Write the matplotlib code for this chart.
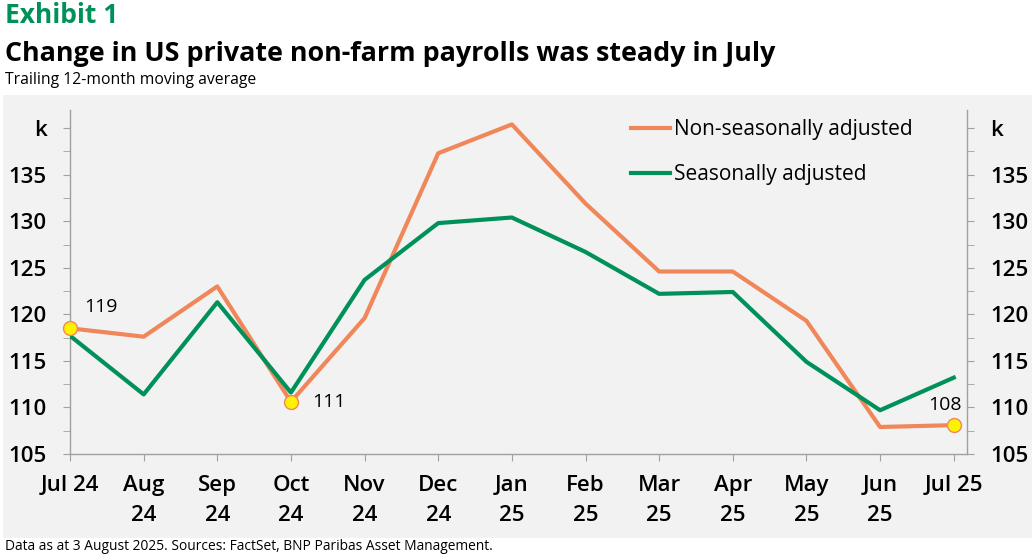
import numpy as np
import matplotlib
matplotlib.use("Agg")
import matplotlib.pyplot as plt
from matplotlib.patches import Rectangle

# ---------------------------------------------------------------- data
months = ["Jul 24", "Aug\n24", "Sep\n24", "Oct\n24", "Nov\n24", "Dec\n24", "Jan\n25",
          "Feb\n25", "Mar\n25", "Apr\n25", "May\n25", "Jun\n25", "Jul 25"]
nsa = [118.5, 117.6, 123.0, 110.6, 119.6, 137.3, 140.4, 131.9, 124.6, 124.6, 119.3, 107.9, 108.1]
sa = [117.7, 111.4, 121.3, 111.6, 123.7, 129.8, 130.4, 126.7, 122.2, 122.4, 114.9, 109.7, 113.2]
highlight_idx = [0, 3, 12]
highlight_txt = ["119", "111", "108"]
yticks = [105, 110, 115, 120, 125, 130, 135, 140]
ylabels = ["105", "110", "115", "120", "125", "130", "135", "k"]

# ---------------------------------------------------------------- style
ORANGE = "#F0875A"
GREEN = "#00915A"
BG = "#F2F2F2"
SPINE = "#A0A0A0"
FONT = "Open Sans"

plt.rcParams["font.family"] = [FONT, "DejaVu Sans"]

W, H = 1035, 557
fig = plt.figure(figsize=(W / 100, H / 100), dpi=100)
fig.patch.set_facecolor("white")

# grey panel behind chart
fig.patches.append(Rectangle((3 / W, 1 - 538 / H), 1029 / W, 443 / H,
                             transform=fig.transFigure, facecolor=BG,
                             edgecolor="none", zorder=-10))

ax = fig.add_axes([70 / W, 1 - 454 / H, (967 - 70) / W, (454 - 109.5) / H])
ax.set_facecolor(BG)
x = np.arange(len(months))

ax.plot(x, nsa, color=ORANGE, lw=3, label="Non-seasonally adjusted", zorder=3)
ax.plot(x, sa, color=GREEN, lw=3, label="Seasonally adjusted", zorder=3)

hx = [x[i] for i in highlight_idx]
hy = [nsa[i] for i in highlight_idx]
ax.plot(hx, hy, ls="none", marker="o", ms=10, mfc="#FFF200", mec=ORANGE,
        mew=1, zorder=4, clip_on=False)
ax.annotate(highlight_txt[0], (hx[0], hy[0]), xytext=(10, 9), textcoords="offset points",
            fontsize=14, ha="left", va="bottom")
ax.annotate(highlight_txt[1], (hx[1], hy[1]), xytext=(15, 0), textcoords="offset points",
            fontsize=14, ha="left", va="center")
ax.annotate(highlight_txt[2], (hx[2], hy[2]), xytext=(-6, 8), textcoords="offset points",
            fontsize=14, ha="center", va="bottom")

ax.set_xlim(0, 12.18)
ax.set_ylim(105, 142)
ax.set_xticks(x)
ax.set_xticklabels(months, fontsize=16, fontweight="semibold", linespacing=1.6)
ax.set_yticks(yticks)
ax.set_yticklabels(ylabels, fontsize=16, fontweight="semibold")
ax.set_yticks(np.arange(107.5, 140, 5), minor=True)

for s in ["top"]:
    ax.spines[s].set_visible(False)
for s in ["left", "right", "bottom"]:
    ax.spines[s].set_color(SPINE)
    ax.spines[s].set_linewidth(1)

ax.tick_params(axis="y", which="both", left=True, right=True, labelleft=True,
               labelright=True, length=5, color=SPINE, pad=12)
ax.tick_params(axis="x", length=5, color=SPINE, pad=10)

ax.legend(loc="upper left", bbox_to_anchor=(621 / W, 1 - 109 / H),
          bbox_transform=fig.transFigure, frameon=False, fontsize=15,
          handlelength=1.83, handletextpad=0.2, labelspacing=1.15, borderpad=0)

# ---------------------------------------------------------------- texts
fig.text(5 / W, 1 - 23 / H, "Exhibit 1", color=GREEN, fontsize=19,
         fontweight="bold", va="baseline")
fig.text(5 / W, 1 - 61 / H, "Change in US private non-farm payrolls was steady in July",
         fontsize=19.4, fontweight="bold", va="baseline")
fig.text(5 / W, 1 - 84 / H, "Trailing 12-month moving average", fontsize=11.3, va="baseline")
fig.text(5 / W, 1 - 547 / H,
         "Data as at 3 August 2025. Sources: FactSet, BNP Paribas Asset Management.",
         fontsize=9.9, va="center")

fig.savefig("out.png", dpi=100)
